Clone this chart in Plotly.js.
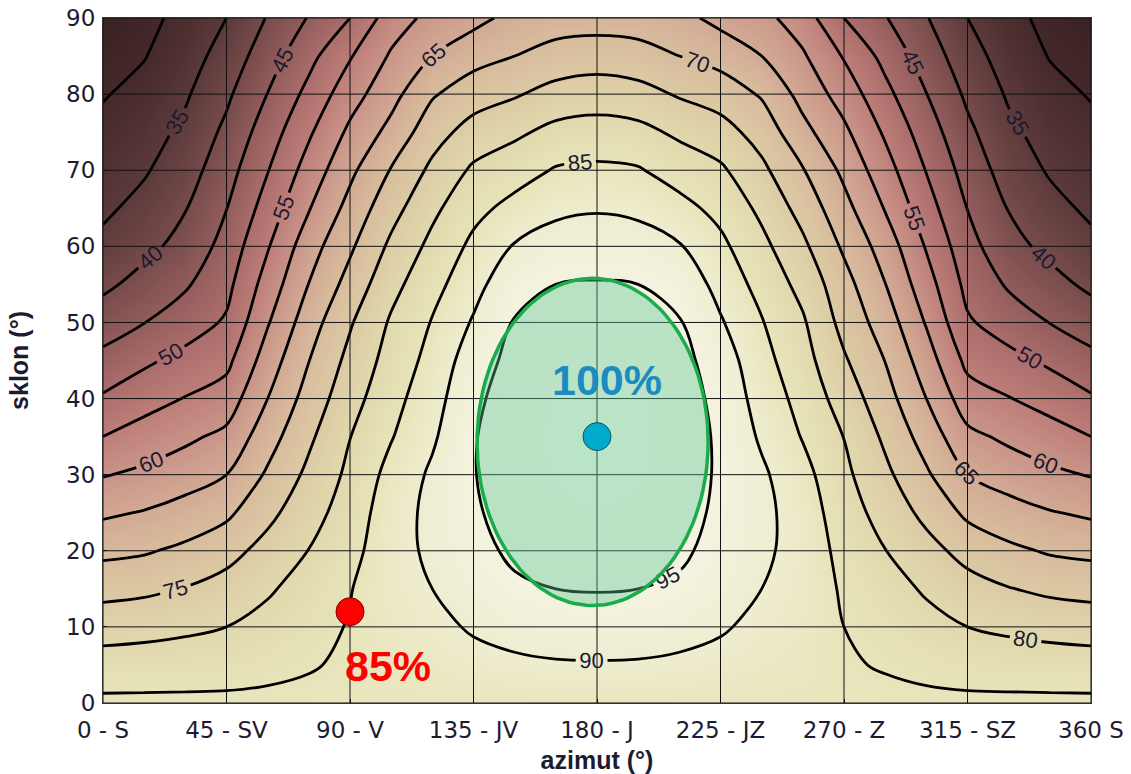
<!DOCTYPE html>
<html>
<head>
<meta charset="utf-8">
<script src="https://cdn.plot.ly/plotly-3.0.1.min.js"></script>
<style>html,body{margin:0;padding:0;background:#fff;}#chart{width:1131px;height:774px;}</style>
</head>
<body>
<div id="chart"></div>
<script>
// azimuth (deg) columns and tilt (deg) rows
const azimuth = [0,15,30,45,60,75,90,105,120,135,150,165,180,195,210,225,240,255,270,285,300,315,330,345,360];
const tilt = [0,5,10,15,20,25,30,35,40,45,50,55,60,65,70,75,80,85,90];

// relative annual irradiation (%), one row per tilt
const irradiance = [
 [86,86,86,86,86,86,86,86,86,86,86,86,86,86,86,86,86,86,86,86,86,86,86,86,86],
 [82.1,82.3,82.6,82.9,83.8,84.7,85.6,86.7,87.3,88.3,88.9,89.5,89.6,89.5,88.9,88.3,87.3,86.7,85.4,84.7,83.8,82.9,82.6,82.3,82.1],
 [77.9,78.4,79.1,80.0,81.6,83.4,85.3,87.3,88.6,90.6,92.2,92.8,93.0,92.8,92.2,90.6,88.6,87.3,85.0,83.4,81.6,80.0,79.1,78.4,77.9],
 [73.4,74.0,75.2,76.9,79.4,82.0,84.8,87.8,90.0,92.5,94.3,95.0,95.2,95.0,94.3,92.5,90.0,87.8,84.4,82.0,79.4,76.9,75.2,74.0,73.4],
 [68.8,69.5,71.0,73.3,76.7,80.1,83.5,88.0,91.0,93.7,95.8,96.9,97.3,96.9,95.8,93.5,91.0,88.0,83.5,80.1,76.7,73.3,71.0,69.5,68.8],
 [64.2,65.3,66.9,69.0,73.7,78.1,82.3,87.7,91.3,94.4,96.9,98.2,98.8,98.2,96.9,94.0,91.3,87.7,82.3,78.1,73.7,69.0,66.9,65.3,64.2],
 [59.7,61.0,62.8,65.0,70.7,76.1,81.1,86.6,90.8,94.8,97.5,99.1,99.7,99.1,97.5,94.3,90.8,86.6,81.1,76.1,70.7,65.0,62.8,61.0,59.7],
 [55.0,57.1,59.0,61.2,67.9,74.1,79.9,84.7,89.3,94.7,97.6,99.4,100,99.4,97.6,94.2,89.3,84.7,79.9,74.1,67.9,61.2,59.0,57.1,55.0],
 [50.6,53.1,55.2,57.3,65.0,72.0,78.1,83.3,88.0,94.0,97.3,99.1,99.7,99.1,97.3,93.6,88.0,83.3,77.8,72.0,65.0,57.3,55.2,53.1,50.6],
 [46.4,49.1,51.5,53.7,62.4,69.9,76.4,81.9,86.6,92.7,96.5,98.3,98.8,98.3,96.5,92.7,86.6,81.9,75.6,69.9,62.4,53.7,51.5,49.1,46.4],
 [42.5,44.9,47.6,50.6,59.6,67.7,74.5,80.6,85.3,90.5,95.3,96.9,97.3,96.9,95.3,90.5,85.3,80.6,73.4,67.7,59.6,50.6,47.6,44.9,42.5],
 [39.0,41.6,44.4,48.6,57.1,65.1,71.8,78.5,83.3,88.3,93.6,95.0,95.3,95.0,93.6,88.3,83.3,78.5,71.8,65.1,57.1,48.6,44.4,41.6,39.0],
 [36.2,38.8,41.5,46.8,54.6,62.8,69.2,76.0,81.3,86.1,90.4,92.3,92.6,92.3,90.4,86.1,81.3,76.0,69.2,62.8,54.6,46.8,41.5,38.8,36.2],
 [34.1,36.5,39.8,44.9,52.1,59.7,66.6,73.2,78.9,83.6,86.5,88.9,89.6,88.9,86.5,83.6,78.9,73.2,66.6,59.7,52.1,44.9,39.8,36.5,34.1],
 [32.6,34.5,37.8,43.0,49.8,57.0,63.9,70.3,76.1,80.8,82.9,85.4,85.9,85.4,82.9,80.8,76.1,70.3,63.9,57.0,49.8,43.0,37.8,34.5,32.6],
 [31.1,32.9,36.1,41.1,47.5,54.3,61.0,66.5,73.0,77.0,79.1,81.4,82.0,81.4,79.1,77.0,73.0,66.5,61.0,54.3,47.5,41.1,36.1,32.9,31.1],
 [29.7,31.3,34.4,39.1,45.1,51.4,57.9,63.3,69.5,72.7,74.5,76.8,77.6,76.8,74.5,72.7,69.5,63.3,57.9,51.4,45.1,39.1,34.4,31.3,29.7],
 [28.6,29.8,32.7,37.1,42.6,48.5,54.6,60.6,65.0,68.2,70.0,71.8,72.6,71.8,70.0,68.2,65.0,60.6,54.6,48.5,42.6,37.1,32.7,29.8,28.6],
 [27.5,28.8,31.3,35.0,40.3,45.3,50.0,57.5,61.5,63.5,66.5,67.7,67.8,67.7,66.5,63.5,61.5,57.5,50.0,45.3,40.3,35.0,31.3,28.8,27.5]
];

// axis ticks
const azTicks = [0,45,90,135,180,225,270,315,360];
const azTickText = ['0 - S','45 - SV','90 - V','135 - JV','180 - J','225 - JZ','270 - Z','315 - SZ','360 S'];
const tiltTicks = [0,10,20,30,40,50,60,70,80,90];

// highlighted points
const pointAz = [180, 90];
const pointTilt = [35, 12];
const pointLabel = ['100%', '85%'];
const pointColor = ['#00aacc', '#ff0000'];
const pointEdge = ['#1d4d5c', '#7a0000'];
const labelAz = [183.5, 103.7];
const labelTilt = [42.4, 4.9];
const labelColor = ['#1b8cbf', '#ff0000'];

// optimal zone (ellipse): centre and half-axes in azimuth / tilt
const zoneCentre = [178.4, 34.3];
const zoneHalfAxes = [42.1, 21.5];

const colorscale = [
 [0.0, '#2e1a1a'], [0.0667, '#45292a'], [0.1333, '#5c3a3a'], [0.2, '#774b4b'],
 [0.2667, '#925d5c'], [0.3333, '#ab6d6b'], [0.4, '#bd7e79'], [0.4667, '#c99488'],
 [0.5333, '#d2aa94'], [0.6, '#d8bc9d'], [0.6667, '#dccaa4'], [0.7333, '#e1d8ad'],
 [0.8, '#e7e4ba'], [0.8667, '#efedd0'], [0.9333, '#f4f3e0'], [1.0, '#f6f5e6']
];

const contour = {
  type: 'contour', x: azimuth, y: tilt, z: irradiance,
  zmin: 25, zmax: 100, colorscale: colorscale, showscale: false,
  contours: { start: 30, end: 95, size: 5, coloring: 'heatmap', showlabels: true,
              labelfont: { family: 'Liberation Sans', size: 22, color: '#1a1a30' } },
  line: { color: '#000', width: 2.8, smoothing: 1 },
  hoverinfo: 'skip'
};

// grid lines drawn above the filled contours
const gx = [], gy = [];
azTicks.forEach(v => { gx.push(v, v, null); gy.push(0, 90, null); });
tiltTicks.forEach(v => { gx.push(0, 360, null); gy.push(v, v, null); });
const grid = { type: 'scatter', mode: 'lines', x: gx, y: gy,
  line: { color: '#111', width: 1 }, hoverinfo: 'skip', showlegend: false };

const ex = [], ey = [];
for (let i = 0; i <= 120; i++) {
  const a = 2 * Math.PI * i / 120;
  ex.push(zoneCentre[0] + zoneHalfAxes[0] * Math.cos(a));
  ey.push(zoneCentre[1] + zoneHalfAxes[1] * Math.sin(a));
}
const zone = { type: 'scatter', mode: 'lines', x: ex, y: ey, fill: 'toself',
  fillcolor: 'rgba(90,200,150,0.38)', line: { color: '#1aab4b', width: 3.5 },
  hoverinfo: 'skip', showlegend: false };

const points = { type: 'scatter', mode: 'markers', x: pointAz, y: pointTilt,
  marker: { size: 28, color: pointColor, line: { color: pointEdge, width: 1 } },
  text: pointLabel, hoverinfo: 'text', showlegend: false };

const annotations = pointLabel.map((t, i) => ({
  x: labelAz[i], y: labelTilt[i], xref: 'x', yref: 'y', text: '<b>' + t + '</b>',
  showarrow: false, font: { family: 'Liberation Sans', size: 43, color: labelColor[i] }
}));

const tickFont = { family: 'DejaVu Sans', size: 23, color: '#1c1c30' };
const titleFont = { family: 'Liberation Sans', size: 25, color: '#1c1c30' };

const layout = {
  width: 1131, height: 774,
  margin: { l: 103, r: 40, t: 18, b: 71 },
  paper_bgcolor: '#fff', plot_bgcolor: '#fff', showlegend: false,
  xaxis: { range: [0, 360], tickvals: azTicks, ticktext: azTickText, tickfont: tickFont,
    showgrid: false, zeroline: false, showline: true, mirror: true, linecolor: '#333', linewidth: 1,
    ticks: 'inside', ticklen: 4, tickcolor: '#111', ticklabelstandoff: 6,
    title: { text: '<b>azimut (°)</b>', font: titleFont, standoff: 22 } },
  yaxis: { range: [0, 90], tickvals: tiltTicks, tickfont: tickFont,
    showgrid: false, zeroline: false, showline: true, mirror: true, linecolor: '#333', linewidth: 1,
    ticks: 'inside', ticklen: 4, tickcolor: '#111', ticklabelstandoff: 2,
    title: { text: '<b>sklon (°)</b>', font: titleFont, standoff: 30 } },
  annotations: annotations
};

Plotly.newPlot('chart', [contour, grid, zone, points], layout, { staticPlot: true, displayModeBar: false });
</script>
</body>
</html>
